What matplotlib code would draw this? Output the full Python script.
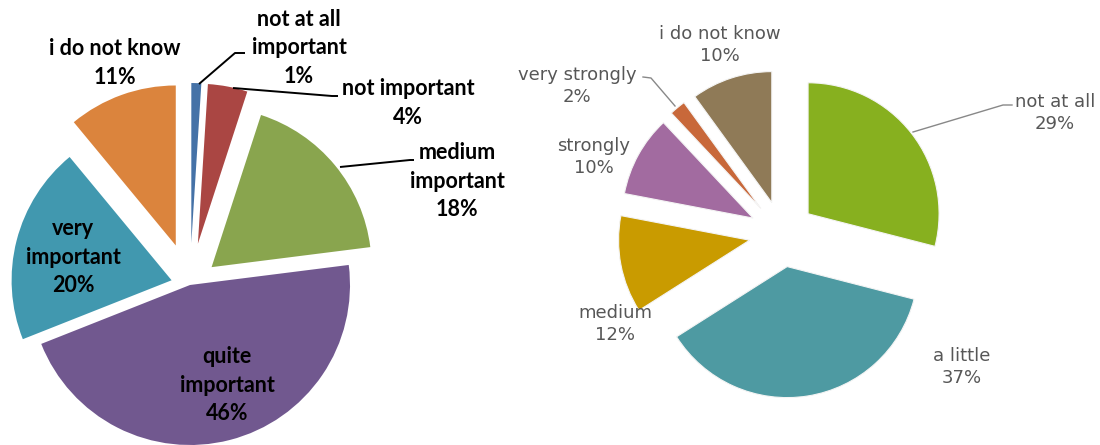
import numpy as np
import matplotlib.pyplot as plt

W, H = 1100, 445

# importance question (left pie)
imp_labels = ["not at all\nimportant", "not important", "medium\nimportant",
              "quite\nimportant", "very\nimportant", "i do not know"]
imp_values = [1, 4, 18, 46, 20, 11]
imp_colors = ["#4572A7", "#AA4643", "#89A54E", "#71588F", "#4198AF", "#DB843D"]

# extent question (right pie)
ext_labels = ["not at all", "a little", "medium", "strongly", "very strongly", "i do not know"]
ext_values = [29, 37, 12, 10, 2, 10]
ext_colors = ["#87B01F", "#4E9AA2", "#C99B00", "#A26BA0", "#C8683A", "#8F7A57"]

fig = plt.figure(figsize=(W / 100, H / 100), dpi=100)
ax = fig.add_axes([0, 0, 1, 1])

# pie geometry in pixel units (y measured from the top)
left_c, left_r = (190, 285), 160
left_expl = [42, 42, 28, 0, 19, 42]
right_c, right_r = (782, 234), 131
right_expl = [33] * 6

ax.pie(imp_values, colors=imp_colors, startangle=90, counterclock=False,
       radius=left_r, center=(left_c[0], H - left_c[1]), explode=left_expl,
       wedgeprops=dict(linewidth=0), frame=True)
ax.pie(ext_values, colors=ext_colors, startangle=90, counterclock=False,
       radius=right_r, center=(right_c[0], H - right_c[1]), explode=right_expl,
       wedgeprops=dict(linewidth=0.8, edgecolor="#f4f4f4"), frame=True)

# labels
left_pos = [(299, 48), (408, 103), (457, 181), (227, 385), (73, 257), (115, 63)]
for lab, v, (x, y) in zip(imp_labels, imp_values, left_pos):
    ax.text(x, H - y, f"{lab}\n{v}%", ha="center", va="center", fontsize=15.5,
            fontweight="bold", family="Lato", color="black", linespacing=1.42)

right_pos = [(1055, 113), (962, 367), (615, 324), (594, 157), (577, 86), (720, 45)]
for lab, v, (x, y) in zip(ext_labels, ext_values, right_pos):
    ax.text(x, H - y, f"{lab}\n{v}%", ha="center", va="center", fontsize=13,
            family="DejaVu Sans", color="#575757", linespacing=1.3)

# leader lines
left_leaders = [[(199, 84), (235, 53), (245, 53)],
                [(233, 88), (332, 96), (338, 96)],
                [(340, 167), (410, 160), (414, 160)]]
for pts in left_leaders:
    xs, ys = zip(*pts)
    ax.plot(xs, H - np.array(ys), color="black", lw=1.4, solid_capstyle="butt")

right_leaders = [[(913, 132), (1003, 105), (1012, 105)],
                 [(675, 106), (651, 78), (643, 77)]]
for pts in right_leaders:
    xs, ys = zip(*pts)
    ax.plot(xs, H - np.array(ys), color="#888888", lw=1.0)

ax.set_aspect("equal")
ax.set_xlim(0, W)
ax.set_ylim(0, H)
ax.axis("off")

fig.savefig("out.png", dpi=100, facecolor="white")
